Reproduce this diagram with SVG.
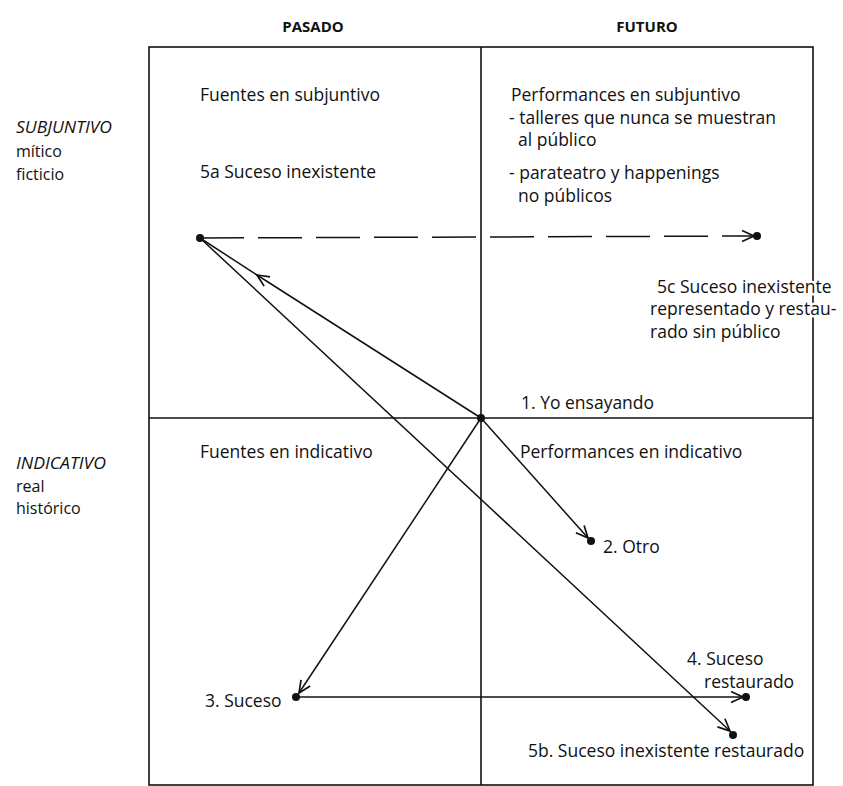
<svg xmlns="http://www.w3.org/2000/svg" width="843" height="786" viewBox="0 0 843 786">
<defs>
<style>
text{font-family:"Open Sans","Liberation Sans",sans-serif;font-size:17.5px;fill:#111}
.h{font-weight:bold;font-size:15px;text-anchor:middle}
.l{font-size:16px}
.i{font-style:italic}
.mask{stroke:#fff;stroke-width:5px;paint-order:stroke;stroke-linejoin:round}
.frame{fill:none;stroke:#111;stroke-width:1.6}
.c{fill:none;stroke:#111;stroke-width:1.5}
.dash{stroke-dasharray:44 14}
.dot{fill:#111}
</style>
<marker id="ah" viewBox="-13 -7 15 14" refX="0" refY="0" markerWidth="15" markerHeight="14" markerUnits="userSpaceOnUse" orient="auto">
<path d="M-12,-5.5 L0,0 L-12,5.5" fill="none" stroke="#111" stroke-width="1.7"/>
</marker>
</defs>
<rect width="843" height="786" fill="#fff"/>
<g id="headers">
<text class="h" x="313" y="32">PASADO</text>
<text class="h" x="647" y="32">FUTURO</text>
</g>
<g id="row-labels">
<text class="l i" x="16" y="133" textLength="96" lengthAdjust="spacingAndGlyphs">SUBJUNTIVO</text>
<text class="l" x="16" y="157">mítico</text>
<text class="l" x="16" y="180">ficticio</text>
<text class="l i" x="16" y="469" textLength="90" lengthAdjust="spacingAndGlyphs">INDICATIVO</text>
<text class="l" x="16" y="492">real</text>
<text class="l" x="16" y="514">histórico</text>
</g>
<g id="grid">
<rect class="frame" x="149" y="47" width="664" height="738"/>
<line class="frame" x1="481" y1="47" x2="481" y2="785"/>
<line class="frame" x1="149" y1="418" x2="813" y2="418"/>
</g>
<g id="quadrant-labels">
<text x="200" y="101">Fuentes en subjuntivo</text>
<text x="511" y="101">Performances en subjuntivo</text>
<text x="509" y="124">- talleres que nunca se muestran</text>
<text x="518" y="146">al público</text>
<text x="509" y="179">- parateatro y happenings</text>
<text x="518" y="202">no públicos</text>
<text x="200" y="458">Fuentes en indicativo</text>
<text x="520" y="458">Performances en indicativo</text>
</g>
<g id="connectors">
<line class="c dash" x1="200" y1="238" x2="754" y2="236" marker-end="url(#ah)"/>
<polyline class="c" points="481,418 257,275 200,238" marker-mid="url(#ah)"/>
<line class="c" x1="200" y1="238" x2="730" y2="731" marker-end="url(#ah)"/>
<line class="c" x1="481" y1="418" x2="588" y2="538" marker-end="url(#ah)"/>
<line class="c" x1="481" y1="418" x2="299" y2="693" marker-end="url(#ah)"/>
<line class="c" x1="296" y1="697" x2="743" y2="697" marker-end="url(#ah)"/>
</g>
<g id="n5a">
<circle class="dot" cx="200" cy="238" r="4"/>
<text x="200" y="178">5a Suceso inexistente</text>
</g>
<g id="n5c">
<circle class="dot" cx="757" cy="236" r="4"/>
<text class="mask" x="657" y="293">5c Suceso inexistente</text>
<text class="mask" x="650" y="315">representado y restau-</text>
<text class="mask" x="650" y="338">rado sin público</text>
</g>
<g id="n1">
<circle class="dot" cx="481" cy="418" r="4"/>
<text x="521" y="409">1. Yo ensayando</text>
</g>
<g id="n2">
<circle class="dot" cx="591" cy="541" r="4"/>
<text x="603" y="553">2. Otro</text>
</g>
<g id="n3">
<circle class="dot" cx="296" cy="697" r="4"/>
<text x="205" y="707">3. Suceso</text>
</g>
<g id="n4">
<circle class="dot" cx="746" cy="697" r="4"/>
<text x="687" y="665">4. Suceso</text>
<text x="704" y="688">restaurado</text>
</g>
<g id="n5b">
<circle class="dot" cx="733" cy="735" r="4"/>
<text x="528" y="757">5b. Suceso inexistente restaurado</text>
</g>
</svg>
